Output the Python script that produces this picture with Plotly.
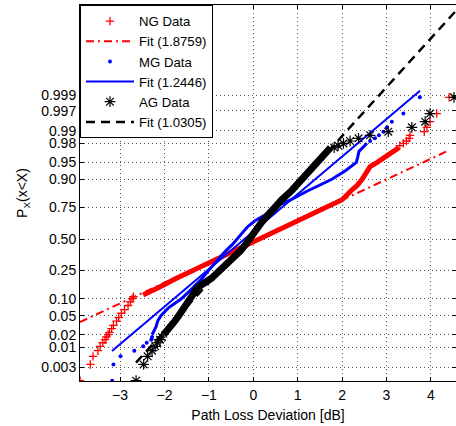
import plotly.graph_objects as go
from statistics import NormalDist

# ---------------- data (x in dB, p = cumulative probability) ----------------
# NG (red +)
ng_low_x = [-3.90, -3.67, -3.61, -3.50, -3.45, -3.39, -3.34, -3.31, -3.27, -3.24,
            -3.19, -3.15, -3.08, -3.03, -2.97, -2.90, -2.82, -2.77, -2.73, -2.70]
ng_low_p = [0.00118, 0.00355, 0.00591, 0.00827, 0.01064, 0.0130, 0.01537, 0.01773,
            0.0201, 0.0225, 0.0272, 0.0319, 0.0390, 0.0461, 0.0556, 0.0650, 0.0768,
            0.0887, 0.1005, 0.1076]
ng_mid_x = [-2.48, -2.42, -2.12, -1.73, -1.36, -1.02, -0.75, -0.46, -0.16, 0.16,
            0.40, 0.69, 0.98, 1.28, 1.66, 2.00, 2.20, 2.34, 2.45, 2.57, 2.63, 2.79,
            2.97, 3.16, 3.28]
ng_mid_p = [0.115, 0.12, 0.15, 0.20, 0.25, 0.30, 0.35, 0.40, 0.45, 0.50, 0.55, 0.60,
            0.65, 0.70, 0.75, 0.80, 0.85, 0.875, 0.90, 0.93, 0.94, 0.95, 0.96, 0.97,
            0.975]
ng_up_x = [3.30, 3.38, 3.45, 3.51, 3.53, 3.85, 3.91, 3.98, 4.13, 4.41]
ng_up_p = [0.97754, 0.97991, 0.98227, 0.98463, 0.98700, 0.98936, 0.99173, 0.99409,
           0.99645, 0.99882]

# MG (blue .)
mg_low_x = [-3.18, -3.15, -2.99, -2.68, -2.48, -2.40, -2.30, -2.28]
mg_low_p = [0.00118, 0.00355, 0.00591, 0.00827, 0.01064, 0.0130, 0.01537, 0.01773]
mg_mid_x = [-2.28, -2.19, -2.15, -2.08, -1.91, -1.62, -1.35, -1.15, -1.01, -0.87,
            -0.75, -0.62, -0.48, -0.36, -0.24, -0.14, 0.03, 0.28, 0.44, 0.84, 1.23,
            1.77, 2.09, 2.32, 2.35, 2.38, 2.56]
mg_mid_p = [0.02, 0.03, 0.04, 0.05, 0.07, 0.10, 0.15, 0.20, 0.25, 0.30, 0.35, 0.40,
            0.45, 0.50, 0.55, 0.60, 0.65, 0.70, 0.75, 0.80, 0.85, 0.90, 0.93, 0.95,
            0.96, 0.97, 0.98]
mg_up_x = [2.63, 2.74, 2.83, 2.93, 3.01, 3.12, 3.38, 3.75]
mg_up_p = [0.98227, 0.98463, 0.98700, 0.98936, 0.99173, 0.99409, 0.99645, 0.99882]

# AG (black *)
ag_low_x = [-2.64, -2.47, -2.38, -2.28, -2.21, -2.16, -2.10, -2.06]
ag_low_p = [0.00118, 0.00355, 0.00591, 0.00827, 0.01064, 0.0130, 0.01537, 0.01773]
ag_mid_x = [-2.02, -1.85, -1.76, -1.68, -1.56, -1.43, -1.25, -0.94, -0.74, -0.56,
            -0.40, -0.29, -0.18, -0.09, 0.02, 0.11, 0.21, 0.34, 0.46, 0.64, 0.86,
            1.09, 1.28, 1.46, 1.55, 1.66, 1.74]
ag_mid_p = [0.02, 0.03, 0.04, 0.05, 0.07, 0.10, 0.15, 0.20, 0.25, 0.30, 0.35, 0.40,
            0.45, 0.50, 0.55, 0.60, 0.65, 0.70, 0.75, 0.80, 0.85, 0.90, 0.93, 0.95,
            0.96, 0.97, 0.975]
ag_up_x = [1.82, 1.91, 2.03, 2.18, 2.37, 2.63, 3.04, 3.57, 3.87, 3.98, 4.52]
ag_up_p = [0.97518, 0.97754, 0.97991, 0.98227, 0.98463, 0.98700, 0.98936, 0.99173,
           0.99409, 0.99645, 0.99882]

# fitted lines (end points)
ng_fit_x = [-3.905, 4.34]
ng_fit_p = [0.0373, 0.9695]
mg_fit_x = [-3.182, 3.754]
mg_fit_p = [0.00813, 0.99927]
ag_fit_x = [-2.642, 4.60]
ag_fit_p = [0.00398, 0.9999996]

legend_names = ["NG Data", "Fit (1.8759)", "MG Data", "Fit (1.2446)", "AG Data", "Fit (1.0305)"]

prob_ticks = [0.003, 0.01, 0.02, 0.05, 0.10, 0.25, 0.50, 0.75, 0.90, 0.95, 0.98, 0.99, 0.997, 0.999]
prob_labels = ["0.003", "0.01", "0.02", "0.05", "0.10", "0.25", "0.50", "0.75", "0.90",
               "0.95", "0.98", "0.99", "0.997", "0.999"]
x_ticks = [-3, -2, -1, 0, 1, 2, 3, 4]

# --------------- probability scale (normal quantile) ---------------
ND = NormalDist()


def q(ps):
    return [ND.inv_cdf(p) for p in ps]


RED, BLUE, BLACK = "#ff0000", "#0000ff", "#000000"

fig = go.Figure()


def add_series(mid_x, mid_p, band_w, tx, tp, color, name, symbol, msize, mline):
    fig.add_trace(go.Scatter(x=mid_x, y=q(mid_p), mode="lines",
                             line=dict(color=color, width=band_w),
                             showlegend=False, hoverinfo="skip"))
    fig.add_trace(go.Scatter(x=tx, y=q(tp), mode="markers", name=name,
                             marker=dict(symbol=symbol, size=msize, color=color,
                                         line=dict(color=color, width=mline))))


def add_fit(fx, fp, color, dash, width, name):
    fig.add_trace(go.Scatter(x=fx, y=q(fp), mode="lines", name=name,
                             line=dict(color=color, dash=dash, width=width)))


add_series(ng_mid_x, ng_mid_p, 5, ng_low_x + ng_up_x, ng_low_p + ng_up_p,
           RED, legend_names[0], "cross-thin", 6, 1.3)
add_fit(ng_fit_x, ng_fit_p, RED, "8px,4px,2px,4px", 2, legend_names[1])
add_series(mg_mid_x, mg_mid_p, 3, mg_low_x + mg_up_x, mg_low_p + mg_up_p,
           BLUE, legend_names[2], "circle", 4, 0)
add_fit(mg_fit_x, mg_fit_p, BLUE, "solid", 2, legend_names[3])
add_series(ag_mid_x, ag_mid_p, 7, ag_low_x + ag_up_x, ag_low_p + ag_up_p,
           BLACK, legend_names[4], "asterisk", 9, 1.2)
add_fit(ag_fit_x, ag_fit_p, BLACK, "9px,6px", 2.5, legend_names[5])

FONT = "Liberation Sans, Arial, Helvetica, sans-serif"
axis_common = dict(showline=True, linecolor="black", linewidth=1, mirror="ticks",
                   ticks="inside", ticklen=4, tickcolor="black", showgrid=True,
                   gridcolor="#555555", griddash="1px,3px", gridwidth=1,
                   zeroline=False, tickfont=dict(size=14, color="black"))

fig.update_xaxes(range=[-3.903, 4.565], tickvals=x_ticks, ticklabelstandoff=1,
                 title=dict(text="Path Loss Deviation [dB]", standoff=8,
                            font=dict(size=14, color="black")),
                 **axis_common)
fig.update_yaxes(range=[-3.047, 5.022], tickvals=q(prob_ticks), ticktext=prob_labels,
                 title=dict(text="P<sub>X</sub>(x&lt;X)", standoff=10,
                            font=dict(size=14, color="black")),
                 **axis_common)

fig.update_layout(
    width=456, height=426,
    margin=dict(l=80, r=0, t=5, b=45),
    paper_bgcolor="white", plot_bgcolor="white",
    font=dict(family=FONT, size=14, color="black"),
    legend=dict(x=0, y=1, xanchor="left", yanchor="top", bgcolor="white",
                bordercolor="black", borderwidth=1, itemwidth=48,
                font=dict(size=13.2), tracegroupgap=0),
    showlegend=True,
)

fig.write_html("out.html", config={"displayModeBar": False},
               post_script="document.body.style.margin='0px';")
